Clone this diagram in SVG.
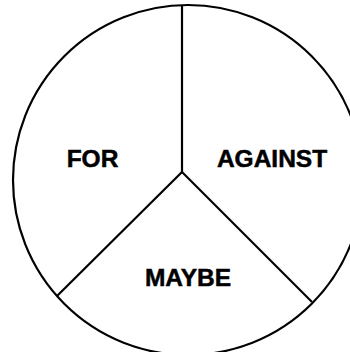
<svg xmlns="http://www.w3.org/2000/svg" width="350" height="352" viewBox="0 0 350 352">
<style>
.line{stroke:#000;stroke-width:2.2;fill:none}
.lbl{font-family:"Liberation Sans",Arial,sans-serif;font-weight:bold;font-size:24.5px;fill:#000;stroke:#000;stroke-width:0.5;text-anchor:middle}
</style>
<rect width="350" height="352" fill="#fff"/>
<g id="pie">
<circle class="line" cx="188" cy="180" r="175"/>
</g>
<g id="connectors">
<line class="line" x1="182" y1="5" x2="182" y2="172"/>
<line class="line" x1="182" y1="172" x2="57" y2="296"/>
<line class="line" x1="182" y1="172" x2="312" y2="302"/>
</g>
<g id="for"><text class="lbl" x="92.5" y="167.3">FOR</text></g>
<g id="against"><text class="lbl" x="272" y="166.7">AGAINST</text></g>
<g id="maybe"><text class="lbl" x="188" y="285.7">MAYBE</text></g>
</svg>
